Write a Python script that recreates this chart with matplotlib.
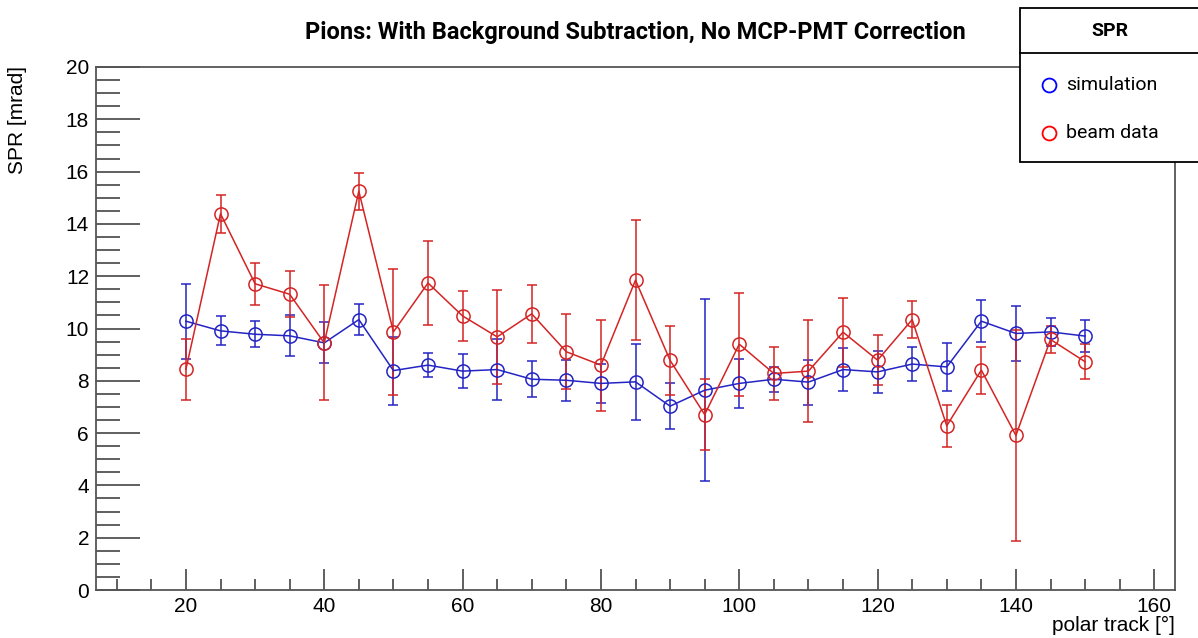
import numpy as np
import matplotlib
matplotlib.use("Agg")
import matplotlib.pyplot as plt
from matplotlib.patches import Rectangle
from matplotlib.lines import Line2D
from matplotlib.ticker import MultipleLocator

## Data ##
polar = [20, 25, 30, 35, 40, 45, 50, 55, 60, 65, 70, 75, 80, 85,
         90, 95, 100, 105, 110, 115, 120, 125, 130, 135, 140, 145, 150]

spr_sim = [10.28, 9.91, 9.78, 9.72, 9.45, 10.34, 8.39, 8.60, 8.37, 8.43, 8.06, 8.02, 7.90, 7.96,
           7.03, 7.64, 7.90, 8.06, 7.95, 8.43, 8.34, 8.64, 8.53, 10.28, 9.81, 9.87, 9.71]
err_sim = [1.44, 0.55, 0.50, 0.78, 0.78, 0.59, 1.30, 0.46, 0.65, 1.17, 0.69, 0.78, 0.73, 1.46,
           0.89, 3.48, 0.93, 0.47, 0.86, 0.83, 0.80, 0.64, 0.93, 0.81, 1.06, 0.53, 0.60]

spr_beam = [8.44, 14.39, 11.71, 11.31, 9.45, 15.25, 9.87, 11.74, 10.48, 9.68, 10.56, 9.11, 8.60, 11.85,
            8.78, 6.71, 9.40, 8.28, 8.37, 9.86, 8.79, 10.34, 6.28, 8.41, 5.91, 9.58, 8.73]
err_beam = [1.17, 0.73, 0.80, 0.88, 2.20, 0.70, 2.40, 1.59, 0.97, 1.80, 1.10, 1.44, 1.74, 2.30,
            1.33, 1.37, 1.97, 1.00, 1.96, 1.32, 0.95, 0.71, 0.80, 0.90, 4.05, 0.50, 0.67]

series_labels = ["simulation", "beam data"]
series_colors = ["#2424c4", "#d42424"]

W, H = 1198, 638
fig = plt.figure(figsize=(W / 100, H / 100), dpi=100)

# axes box in pixels: left 96, right 1175, top 67, bottom 590
ax = fig.add_axes([96 / W, 1 - 590 / H, (1175 - 96) / W, (590 - 67) / H])

for y, e, c in [(spr_sim, err_sim, series_colors[0]), (spr_beam, err_beam, series_colors[1])]:
    ax.errorbar(polar, y, yerr=e, color=c, lw=1.1, elinewidth=1.1, capsize=3.5, capthick=1.1,
                marker='o', ms=9.5, mfc='none', mec=c, mew=1.1)

## ROOT-like frame ##
dx = polar[-1] - polar[0]
ax.set_xlim(polar[0] - 0.1 * dx, polar[-1] + 0.1 * dx)
ax.set_ylim(0, 20)
ax.xaxis.set_major_locator(MultipleLocator(20))
ax.xaxis.set_minor_locator(MultipleLocator(5))
ax.yaxis.set_major_locator(MultipleLocator(2))
ax.yaxis.set_minor_locator(MultipleLocator(0.5))
ax.tick_params(axis='both', which='both', direction='in', colors='#444444', labelcolor='black',
               top=False, right=False, labelsize=15)
ax.tick_params(axis='y', which='major', length=32, width=1.2, pad=5)
ax.tick_params(axis='y', which='minor', length=17, width=1.2)
ax.tick_params(axis='x', which='major', length=15, width=1.2, pad=5)
ax.tick_params(axis='x', which='minor', length=8, width=1.2)
for lab in ax.get_xticklabels() + ax.get_yticklabels():
    lab.set_family('Liberation Sans')
for s in ax.spines.values():
    s.set_color('#555555')
    s.set_linewidth(1.3)

fig.text(18 / W, 1 - 66 / H, "SPR [mrad]", rotation=90, ha='center', va='top',
         fontsize=15, family='Liberation Sans')
fig.text(1175 / W, 1 - 625 / H, "polar track [°]", ha='right', va='center',
         fontsize=15, family='Liberation Sans')
fig.text(635 / W, 1 - 32 / H, "Pions: With Background Subtraction, No MCP-PMT Correction",
         ha='center', va='center', fontsize=17, fontweight='bold', family='Roboto')

## legend box ##
fig.add_artist(Rectangle((1020 / W, 1 - 162 / H), 200 / W, 154 / H, transform=fig.transFigure,
                         fill=True, fc='white', ec='black', lw=1.3, clip_on=False))
fig.add_artist(Line2D([1020 / W, 1], [1 - 53 / H, 1 - 53 / H], transform=fig.transFigure,
                      color='black', lw=1.3))
fig.text(1110 / W, 1 - 31 / H, "SPR", ha='center', va='center', fontsize=14,
         fontweight='bold', family='Roboto')
for i, (lab, c) in enumerate(zip(series_labels, series_colors)):
    yy = 1 - (85 + 48 * i) / H
    fig.add_artist(Line2D([1049 / W], [yy], transform=fig.transFigure, marker='o', ms=10,
                          mfc='none', mec=['#0000ff', '#ff0000'][i], mew=1.3, ls='none'))
    fig.text(1066 / W, yy, lab, ha='left', va='center', fontsize=14, family='Roboto')

fig.savefig("out.png", dpi=100)
